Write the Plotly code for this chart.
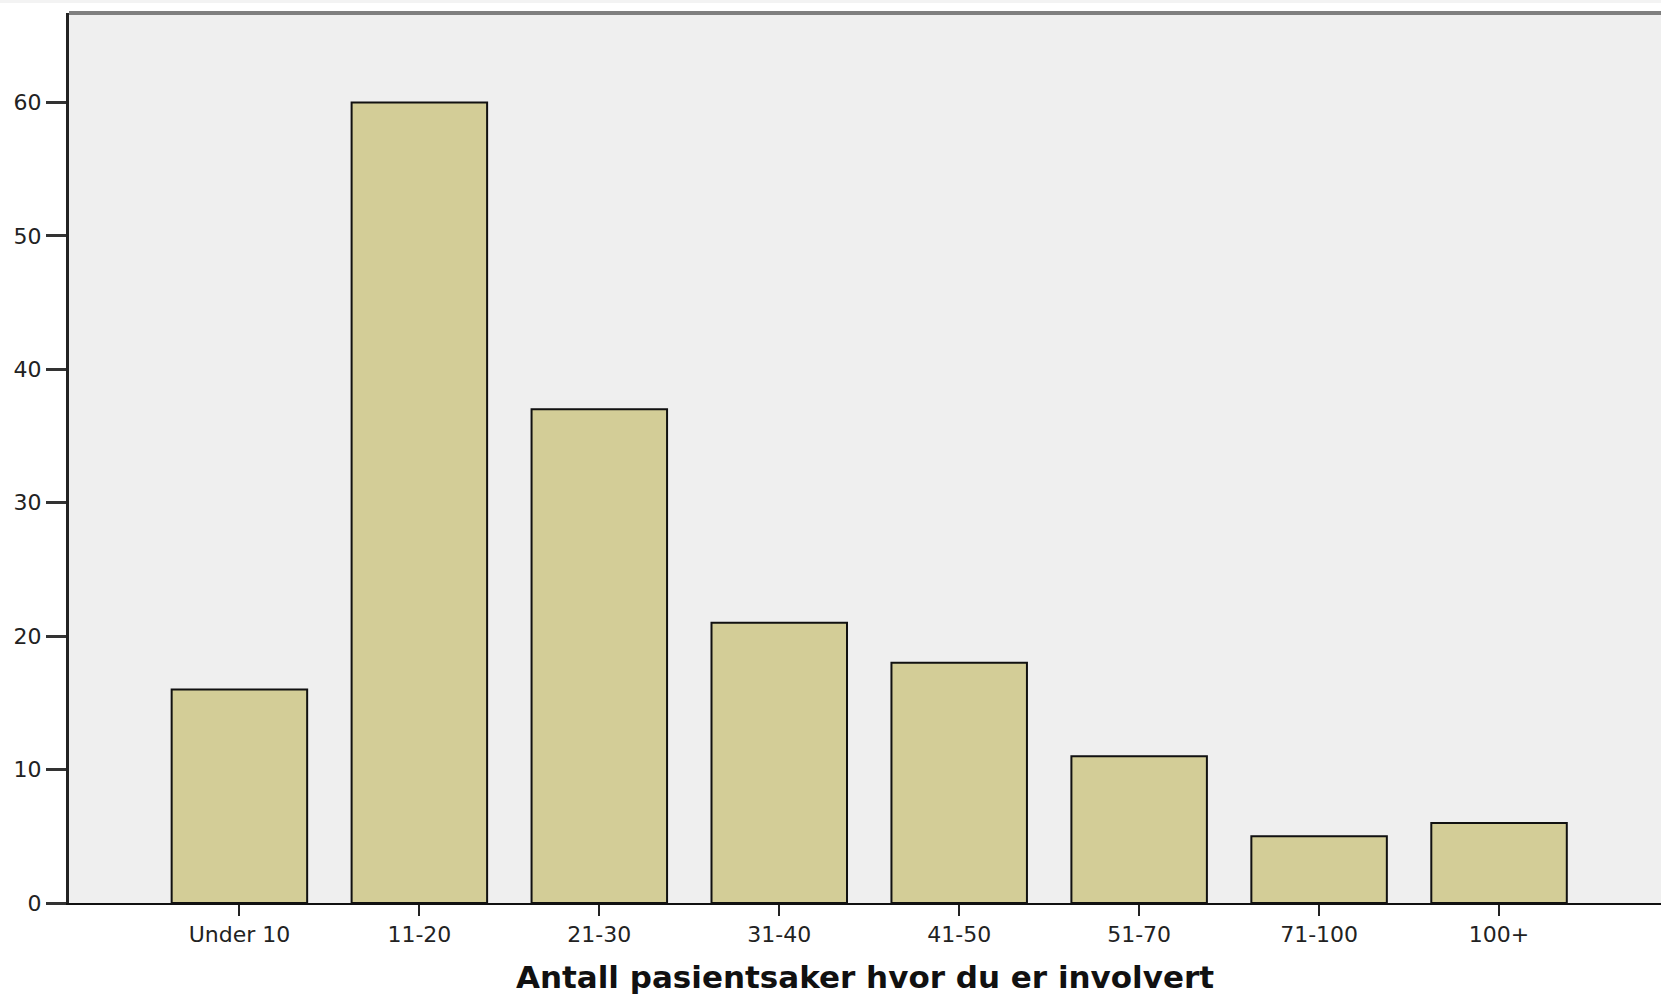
import plotly.graph_objects as go

categories = ["Under 10", "11-20", "21-30", "31-40", "41-50", "51-70", "71-100", "100+"]
counts = [16, 60, 37, 21, 18, 11, 5, 6]
y_ticks = [0, 10, 20, 30, 40, 50, 60]
x_title = "Antall pasientsaker hvor du er involvert"

W, H = 1661, 995
ml, mr, mt, mb = 69, 0, 13, 92
plot_h = H - mt - mb

fig = go.Figure(go.Bar(
    x=list(range(len(categories))),
    y=counts,
    width=0.753,
    marker=dict(color="#d3cd97", line=dict(color="#111111", width=2)),
    hoverinfo="skip",
))

fig.update_layout(
    width=W, height=H,
    margin=dict(l=ml, r=mr, t=mt, b=mb),
    paper_bgcolor="white",
    plot_bgcolor="#efefef",
    showlegend=False,
    font=dict(family="DejaVu Sans", color="#222222"),
    xaxis=dict(
        range=[-0.947, 7.90],
        tickmode="array",
        tickvals=list(range(len(categories))),
        ticktext=categories,
        ticks="outside", ticklen=11, tickwidth=2, tickcolor="#222222",
        showline=True, linecolor="#111111", linewidth=2,
        showgrid=False, zeroline=False,
        tickfont=dict(size=22, color="#222222"),
        title=dict(text=x_title, font=dict(size=31, color="#111111", weight="bold"), standoff=22),
    ),
    yaxis=dict(
        range=[0, 66.7],
        tickmode="array",
        tickvals=y_ticks,
        ticks="outside", ticklen=20, tickwidth=3, tickcolor="#333333",
        showline=True, linecolor="#222222", linewidth=3,
        showgrid=False, zeroline=False,
        tickfont=dict(size=22, color="#222222"),
    ),
    shapes=[
        dict(type="line", xref="paper", yref="paper", x0=0, x1=1, y0=1, y1=1,
             line=dict(color="#7f7f7f", width=4)),
        dict(type="rect", xref="paper", yref="paper", x0=-ml / (W - ml), x1=1,
             y0=1 + 10 / plot_h, y1=1 + 13 / plot_h,
             fillcolor="#f3f3f3", line=dict(width=0), layer="below"),
    ],
)

fig.write_html(
    "out.html",
    config={"displayModeBar": False},
    post_script="document.body.style.margin='0';document.body.style.overflow='hidden';",
)
